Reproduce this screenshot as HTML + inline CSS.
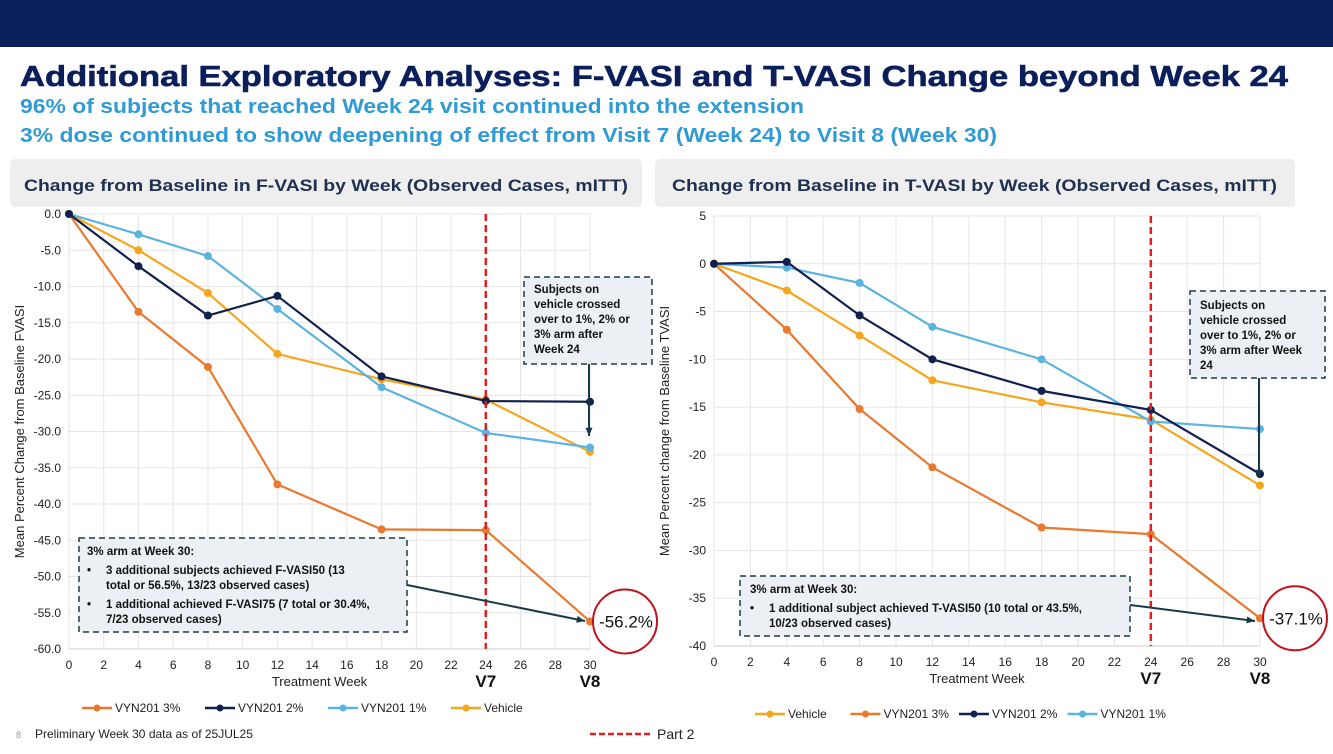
<!DOCTYPE html>
<html><head><meta charset="utf-8"><style>
body{margin:0;width:1333px;height:749px;overflow:hidden;background:#fff;font-family:"Liberation Sans",sans-serif}
svg text{font-family:"Liberation Sans",sans-serif}
</style></head><body>
<svg id="s" width="1333" height="749" xmlns="http://www.w3.org/2000/svg">
<rect x="0" y="0" width="1333" height="47" fill="#0b1f5c"/>
<text x="20" y="86" font-size="29" font-weight="bold" fill="#0b1f5c" textLength="1268" lengthAdjust="spacingAndGlyphs" stroke="#0b1f5c" stroke-width="0.6">Additional Exploratory Analyses: F-VASI and T-VASI Change beyond Week 24</text>
<text x="20" y="113" font-size="20" font-weight="bold" fill="#2f9bd5" textLength="784" lengthAdjust="spacingAndGlyphs">96% of subjects that reached Week 24 visit continued into the extension</text>
<text x="20" y="142" font-size="20" font-weight="bold" fill="#2f9bd5" textLength="977" lengthAdjust="spacingAndGlyphs">3% dose continued to show deepening of effect from Visit 7 (Week 24) to Visit 8 (Week 30)</text>
<rect x="10" y="159" width="632" height="48" rx="5" fill="#eeeeee"/>
<text x="24" y="191" font-size="17" font-weight="bold" fill="#1f3050" textLength="604" lengthAdjust="spacingAndGlyphs">Change from Baseline in F-VASI by Week (Observed Cases, mITT)</text>
<rect x="655" y="159" width="640" height="48" rx="5" fill="#eeeeee"/>
<text x="672" y="191" font-size="17" font-weight="bold" fill="#1f3050" textLength="605" lengthAdjust="spacingAndGlyphs">Change from Baseline in T-VASI by Week (Observed Cases, mITT)</text>
<text x="16" y="738" font-size="9" fill="#999">8</text>
<text x="35" y="738" font-size="12" fill="#222">Preliminary Week 30 data as of 25JUL25</text>
<line x1="590" y1="734" x2="650" y2="734" stroke="#e02020" stroke-width="2.5" stroke-dasharray="6,3"/>
<text x="657" y="739" font-size="14" fill="#222">Part 2</text>
<g id="g1"></g><g id="g2"></g>
</svg>
<script>
const weeks=[0,4,8,12,18,24,30];
const xTicks=[0,2,4,6,8,10,12,14,16,18,20,22,24,26,28,30];
const fvasi3=[0,-13.5,-21.1,-37.3,-43.5,-43.6,-56.2];
const fvasi2=[0,-7.2,-14.0,-11.3,-22.4,-25.8,-25.9];
const fvasi1=[0,-2.8,-5.8,-13.1,-23.9,-30.2,-32.2];
const fvasiVeh=[0,-5.0,-10.9,-19.3,-22.8,-25.6,-32.8];
const fTicks=[0,-5,-10,-15,-20,-25,-30,-35,-40,-45,-50,-55,-60];
const tvasi3=[0,-6.9,-15.2,-21.3,-27.6,-28.3,-37.1];
const tvasi2=[0,0.2,-5.4,-10.0,-13.3,-15.3,-22.0];
const tvasi1=[0,-0.4,-2.0,-6.6,-10.0,-16.5,-17.3];
const tvasiVeh=[0,-2.8,-7.5,-12.2,-14.5,-16.3,-23.2];
const tTicks=[5,0,-5,-10,-15,-20,-25,-30,-35,-40];
const C={o:"#e8792f",n:"#10204f",b:"#5bb3e0",y:"#f5a61f"};
const NS="http://www.w3.org/2000/svg";
function mk(p,t,a,txt){const e=document.createElementNS(NS,t);for(const k in a)e.setAttribute(k,a[k]);if(txt!==undefined)e.textContent=txt;p.appendChild(e);return e;}
function chart(g,cfg){
 const X=v=>cfg.x0+(v-0)/30*(cfg.x1-cfg.x0);
 const Y=v=>cfg.y0+(cfg.ymax-v)/(cfg.ymax-cfg.ymin)*(cfg.y1-cfg.y0);
 xTicks.forEach(t=>{const l=mk(g,'line',{x1:X(t),x2:X(t),y1:cfg.y0,y2:cfg.y1,stroke:'#e6e6e6'});
  
  const tx=mk(g,'text',{x:X(t),y:cfg.y1+20,'font-size':12,'text-anchor':'middle',fill:'#222'},t);
  });
 cfg.ticks.forEach(t=>{const l=mk(g,'line',{x1:cfg.x0,x2:cfg.x1,y1:Y(t),y2:Y(t),stroke:'#e6e6e6'});
  
  const tx=mk(g,'text',{x:cfg.x0-8,y:Y(t)+4,'font-size':12,'text-anchor':'end',fill:'#222'},cfg.fmt(t));
  });
 const ax=mk(g,'line',{x1:cfg.x0,x2:cfg.x1,y1:cfg.y1,y2:cfg.y1,stroke:'#ccc'});
 
 const yt=mk(g,'text',{x:0,y:0,'font-size':13,'text-anchor':'middle',fill:'#222',transform:`translate(${cfg.x0-45},${(cfg.y0+cfg.y1)/2}) rotate(-90)`},cfg.ytitle);
 
 const xt=mk(g,'text',{x:(cfg.x0+cfg.x1)/2-10,y:cfg.y1+37,'font-size':13,'text-anchor':'middle',fill:'#222'},'Treatment Week');
 
 const v7=mk(g,'text',{x:X(24),y:cfg.y1+38,'font-size':17,'font-weight':'bold','text-anchor':'middle',fill:'#111'},'V7');
 
 const v8=mk(g,'text',{x:X(30),y:cfg.y1+38,'font-size':17,'font-weight':'bold','text-anchor':'middle',fill:'#111'},'V8');
 
 cfg.series.forEach(s=>{
  const pl=mk(g,'polyline',{points:weeks.map((w,i)=>X(w)+','+Y(s.v[i])).join(' '),fill:'none',stroke:s.c,'stroke-width':2.2});
  
  weeks.forEach((w,i)=>{const c=mk(g,'circle',{cx:X(w),cy:Y(s.v[i]),r:4,fill:s.c});
   });
 });
 const p2=mk(g,'line',{x1:X(24),x2:X(24),y1:cfg.y0,y2:cfg.y1,stroke:'#e02020','stroke-width':2.5,'stroke-dasharray':'7,4'});
 
 let lx=cfg.legX;cfg.series.slice().sort((a,b)=>cfg.legOrder.indexOf(a.id)-cfg.legOrder.indexOf(b.id)).forEach(s=>{
  const gl=mk(g,'g',{});
  mk(gl,'line',{x1:lx,x2:lx+30,y1:cfg.legY,y2:cfg.legY,stroke:s.c,'stroke-width':2.5});
  mk(gl,'circle',{cx:lx+15,cy:cfg.legY,r:3.5,fill:s.c});
  mk(gl,'text',{x:lx+33,y:cfg.legY+4,'font-size':12,fill:'#222'},s.name);
  lx+=cfg.legStep(s.name);});
 const last=cfg.series.find(s=>s.id==='3pct').v[6];
 const cc=mk(g,'circle',{cx:X(30)+35,cy:Y(last),r:32,fill:'none',stroke:'#c0121b','stroke-width':2});
 
 const ct=mk(g,'text',{x:X(30)+36,y:Y(last)+6,'font-size':17,'text-anchor':'middle',fill:'#111'},last.toFixed(1)+'%');
 
 return {X,Y};
}
function box(g,x,y,w,h,lines,name){
 const gg=mk(g,'g',{});
 mk(gg,'rect',{x,y,width:w,height:h,fill:'#eceff3',stroke:'#1d3b4a','stroke-width':1.5,'stroke-dasharray':'6,4'});
 lines.forEach(l=>mk(gg,'text',{x:x+l[0],y:y+l[1],'font-size':11.5,'font-weight':'bold',fill:'#111'},l[2]));
}
function arrow(g,x1,y1,x2,y2,name){
 const a=mk(g,'g',{});
 mk(a,'line',{x1,y1,x2,y2,stroke:'#17394a','stroke-width':2});
 const ang=Math.atan2(y2-y1,x2-x1),L=9;
 mk(a,'polygon',{points:`${x2},${y2} ${x2-L*Math.cos(ang-0.4)},${y2-L*Math.sin(ang-0.4)} ${x2-L*Math.cos(ang+0.4)},${y2-L*Math.sin(ang+0.4)}`,fill:'#17394a'});
}
const g1=document.getElementById('g1'),g2=document.getElementById('g2');
const A=chart(g1,{x0:69,x1:590,y0:214,y1:649,ymax:0,ymin:-60,ticks:fTicks,fmt:t=>t.toFixed(1),ytitle:'Mean Percent Change from Baseline FVASI',
 series:[{id:'3pct',name:'VYN201 3%',v:fvasi3,c:C.o},{id:'vehicle',name:'Vehicle',v:fvasiVeh,c:C.y},{id:'1pct',name:'VYN201 1%',v:fvasi1,c:C.b},{id:'2pct',name:'VYN201 2%',v:fvasi2,c:C.n}],
 legOrder:['3pct','2pct','1pct','vehicle'],legX:82,legY:708,legStep:n=>n.length*7+60});
box(g1,524,277,128,87,[[10,16,'Subjects on'],[10,31,'vehicle crossed'],[10,46,'over to 1%, 2% or'],[10,61,'3% arm after'],[10,76,'Week 24']],'crossover-note-left');
arrow(g1,589,364,589,436,'crossover-arrow-left');
box(g1,79,538,328,94,[[8,17,'3% arm at Week 30:'],[8,36,'•'],[27,36,'3 additional subjects achieved F-VASI50 (13'],[27,51,'total or 56.5%, 13/23 observed cases)'],[8,70,'•'],[27,70,'1 additional achieved F-VASI75 (7 total or 30.4%,'],[27,85,'7/23 observed cases)']],'week30-note-left');
arrow(g1,407,585,585,621,'week30-arrow-left');
const B=chart(g2,{x0:714,x1:1260,y0:216,y1:646,ymax:5,ymin:-40,ticks:tTicks,fmt:t=>String(t),ytitle:'Mean Percent change from Baseline TVASI',
 series:[{id:'3pct',name:'VYN201 3%',v:tvasi3,c:C.o},{id:'vehicle',name:'Vehicle',v:tvasiVeh,c:C.y},{id:'1pct',name:'VYN201 1%',v:tvasi1,c:C.b},{id:'2pct',name:'VYN201 2%',v:tvasi2,c:C.n}],
 legOrder:['vehicle','3pct','2pct','1pct'],legX:755,legY:714,legStep:n=>n.length*6.5+50});
box(g2,1190,291,135,87,[[10,18,'Subjects on'],[10,33,'vehicle crossed'],[10,48,'over to 1%, 2% or'],[10,63,'3% arm after Week'],[10,78,'24']],'crossover-note-right');
arrow(g2,1259,378,1259,478,'crossover-arrow-right');
box(g2,740,576,390,60,[[10,17,'3% arm at Week 30:'],[10,36,'•'],[29,36,'1 additional subject achieved T-VASI50 (10 total or 43.5%,'],[29,51,'10/23 observed cases)']],'week30-note-right');
arrow(g2,1130,605,1255,621,'week30-arrow-right');
</script>
</body></html>
